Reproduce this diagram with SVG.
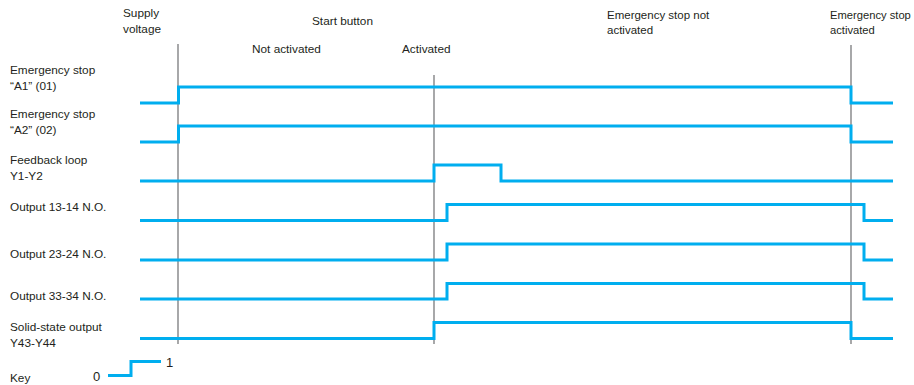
<svg xmlns="http://www.w3.org/2000/svg" width="914" height="385" viewBox="0 0 914 385">
  <style>
    text { font-family: "Liberation Sans", Arial, sans-serif; font-size: 11.8px; fill: #231f20; }
    .sig { fill: none; stroke: #00aeef; stroke-width: 3; stroke-linejoin: miter; stroke-linecap: butt; }
    .mark { fill: none; stroke: #6d6e71; stroke-width: 1.2; }
    .num { font-size: 13px; }
    .small { font-size: 11.5px; }
    .smaller { font-size: 11.2px; }
  </style>
  <rect width="914" height="385" fill="#ffffff"/>

  <!-- column headings -->
  <g id="headings">
    <text x="123" y="17">Supply</text>
    <text x="123" y="33">voltage</text>
    <text x="312" y="25">Start button</text>
    <text x="252" y="53">Not activated</text>
    <text x="402" y="53">Activated</text>
    <text class="small" x="607" y="18.5">Emergency stop not</text>
    <text class="small" x="607" y="34">activated</text>
    <text class="smaller" x="830" y="18.5">Emergency stop</text>
    <text class="smaller" x="830" y="34">activated</text>
  </g>

  <!-- event markers -->
  <g id="markers">
    <line class="mark" x1="178" y1="44" x2="178" y2="344"/>
    <line class="mark" x1="434" y1="75" x2="434" y2="344"/>
    <line class="mark" x1="851" y1="45" x2="851" y2="344"/>
  </g>

  <!-- signal rows -->
  <g id="estop-a1">
    <text x="10" y="74">Emergency stop</text>
    <text x="10" y="90">“A1” (01)</text>
    <path class="sig" d="M140,103 H178.5 V87 H851 V103 H893"/>
  </g>
  <g id="estop-a2">
    <text x="10" y="118">Emergency stop</text>
    <text x="10" y="134">“A2” (02)</text>
    <path class="sig" d="M140,142 H178.5 V126 H851 V142 H893"/>
  </g>
  <g id="feedback">
    <text x="10" y="164">Feedback loop</text>
    <text x="10" y="180">Y1-Y2</text>
    <path class="sig" d="M140,181 H434 V165 H501 V181 H893"/>
  </g>
  <g id="out-13-14">
    <text x="10" y="211">Output 13-14 N.O.</text>
    <path class="sig" d="M140,220.5 H447 V204.5 H864 V220.5 H893"/>
  </g>
  <g id="out-23-24">
    <text x="10" y="258">Output 23-24 N.O.</text>
    <path class="sig" d="M140,260 H447 V244 H864 V260 H893"/>
  </g>
  <g id="out-33-34">
    <text x="10" y="300">Output 33-34 N.O.</text>
    <path class="sig" d="M140,299 H447 V283.5 H864 V299 H893"/>
  </g>
  <g id="solid-state">
    <text x="10" y="331">Solid-state output</text>
    <text x="10" y="347">Y43-Y44</text>
    <path class="sig" d="M140,338.5 H434 V322.5 H851 V338.5 H893"/>
  </g>

  <!-- key -->
  <g id="key">
    <text x="10" y="381.5">Key</text>
    <text class="num" x="93" y="381">0</text>
    <text class="num" x="166" y="366.5">1</text>
    <path class="sig" d="M108,375.5 H131 V361.5 H161"/>
  </g>
</svg>
